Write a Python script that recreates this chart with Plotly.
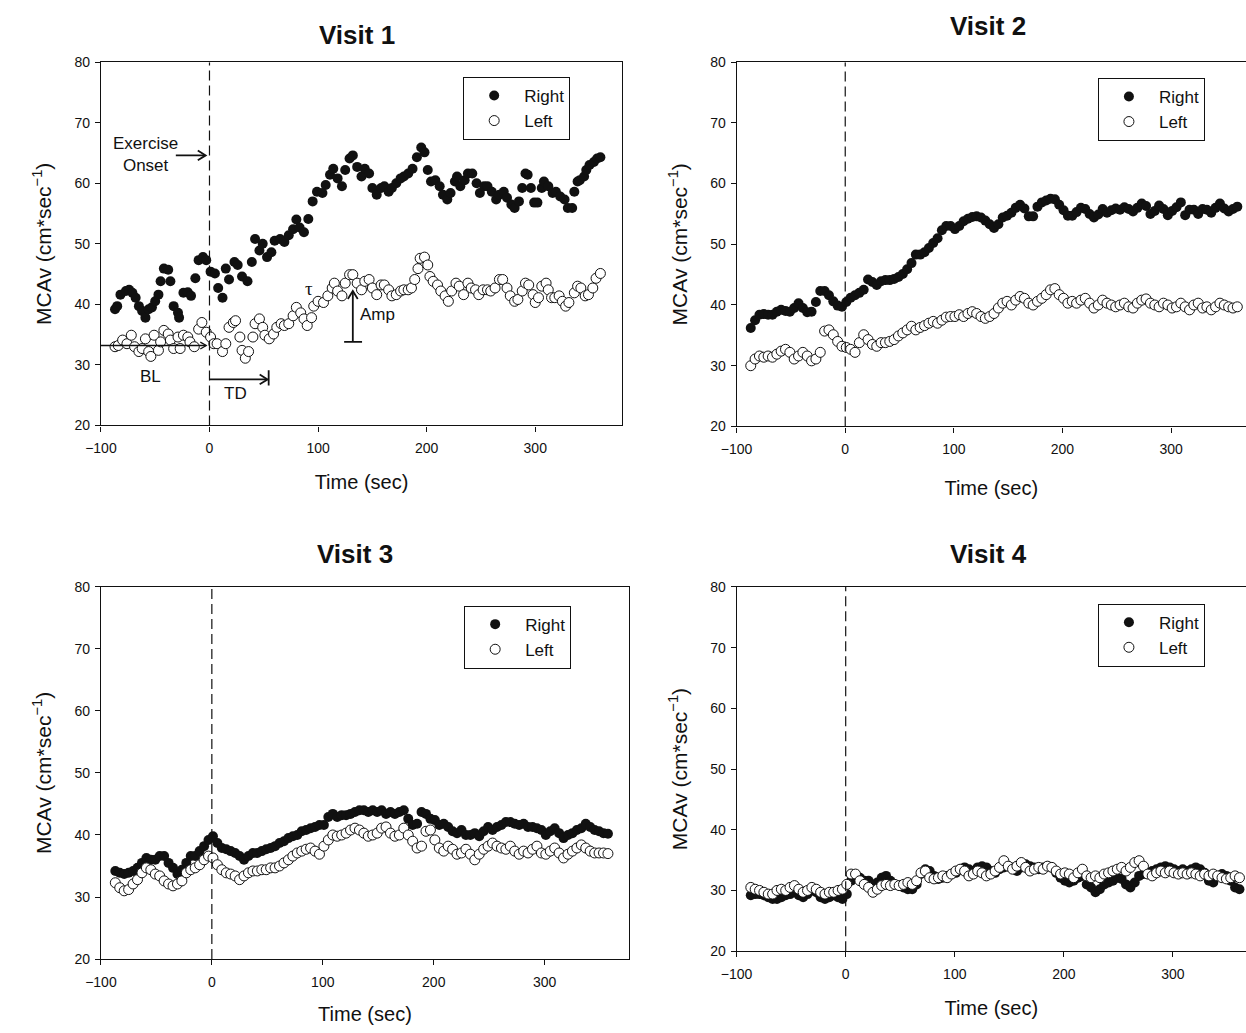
import plotly.graph_objects as go

# ---------------- data ----------------
TICKS_X = [-100, 0, 100, 200, 300]
TICKS_Y = [20, 30, 40, 50, 60, 70, 80]

# Visit 1 (irregular read-off times)
t1_right = [-87,-85,-82,-77,-74,-71,-68,-65,-62,-59,-56,-53,-50,-47,-45,-42,-38,-36,-33,-29,
            -28,-24,-20,-17,-13,-10,-6,-3,1,5,8,12,15,18,23,26,30,35,39,42,
            46,49,53,57,60,65,69,73,77,80,83,87,91,95,99,104,107,111,114,118,
            122,125,129,132,136,140,143,147,150,154,158,161,165,168,172,176,179,183,187,191,
            195,198,201,204,208,212,215,219,222,226,228,231,235,238,242,246,249,253,256,260,
            264,267,271,274,278,281,285,288,291,293,296,299,302,306,308,312,316,319,323,327,
            330,334,336,339,341,345,347,350,354,357,360]
v1_right = [39.2,39.7,41.6,42.2,42.4,41.9,41.1,39.7,38.9,37.8,39.2,39.5,40.5,41.6,43.8,45.9,45.7,43.8,39.7,38.6,
            37.8,41.9,42.0,41.4,44.3,47.3,47.8,47.3,45.4,45.1,42.7,41.1,45.9,44.1,47.0,46.5,44.6,43.8,47.0,50.8,
            48.9,50.0,47.8,48.6,50.5,50.8,50.3,51.4,52.4,54.0,52.7,51.9,54.1,57.0,58.6,58.4,59.7,61.4,62.4,60.8,
            59.5,62.2,64.1,64.6,62.7,61.1,62.4,61.6,59.2,58.1,59.2,59.5,58.6,59.2,60.0,60.8,61.1,61.6,62.4,64.3,
            65.9,65.1,62.2,60.3,60.5,59.5,58.1,57.3,58.4,60.3,61.1,59.5,60.5,61.6,61.6,60.0,58.4,59.5,59.5,58.6,
            57.3,58.1,58.6,57.6,56.5,55.9,57.0,59.2,61.6,61.4,59.2,56.8,56.8,59.2,60.3,59.5,58.4,58.6,57.8,57.3,
            55.9,55.9,58.6,60.3,60.5,61.1,62.2,63.0,63.5,64.1,64.3]
t1_left = [-87,-84,-80,-76,-72,-69,-65,-62,-59,-56,-54,-51,-47,-45,-42,-38,-36,-33,-29,-27,
           -24,-20,-18,-14,-10,-7,-3,1,4,7,12,15,18,22,24,28,30,33,36,40,
           42,46,49,51,55,59,62,66,69,73,77,80,84,87,90,94,96,100,105,109,
           113,115,118,122,125,129,132,136,140,143,147,150,154,158,161,165,168,172,176,179,
           183,186,189,192,194,198,201,203,206,210,213,217,220,223,227,230,234,238,241,245,
           248,252,256,259,263,267,270,274,277,281,284,288,291,294,298,300,303,306,310,312,
           315,318,322,325,328,331,336,339,342,346,349,353,356,360]
v1_left = [33.0,33.2,34.1,33.5,34.9,33.0,32.2,32.7,34.3,32.2,31.4,34.9,32.4,33.8,35.7,35.1,34.1,32.7,34.6,32.7,
           34.9,34.6,33.8,33.0,35.9,37.0,35.4,34.6,33.5,33.5,32.2,33.5,36.2,37.0,37.3,34.6,32.4,31.1,32.2,34.6,
           36.8,37.6,36.2,34.9,34.3,35.1,36.2,36.8,36.5,36.8,38.1,39.5,38.6,37.6,36.5,37.8,39.7,40.5,40.3,41.4,
           42.7,43.5,42.2,41.4,43.5,44.9,44.9,43.5,42.4,43.8,44.1,42.7,41.6,43.2,43.2,42.4,41.4,41.6,42.2,42.4,
           42.4,42.7,44.1,45.9,47.6,47.8,46.5,44.6,43.8,43.2,42.2,41.4,40.5,42.2,43.5,43.0,41.6,43.5,42.7,42.4,
           41.6,42.4,42.4,42.2,42.7,44.1,44.1,42.7,41.4,40.5,40.8,42.2,43.5,43.2,41.6,40.3,41.1,43.0,43.5,42.4,
           41.1,41.1,41.4,40.5,39.7,40.3,41.9,43.0,42.7,41.4,41.6,42.7,44.3,45.1]

# Visits 2-4: samples every 4 s starting at -87 s
T0, STEP = -87, 4
v2_right = [36.2,37.5,38.4,38.5,38.4,38.4,38.9,39.2,39.0,38.9,
            39.5,40.3,39.5,38.8,38.9,40.5,42.3,42.3,41.6,40.6,
            39.9,39.7,40.5,41.2,41.6,42.0,42.5,44.2,43.8,43.3,
            43.9,44.1,44.1,44.3,44.6,45.1,45.9,46.9,48.3,48.3,
            48.7,49.4,50.2,51.0,52.3,53.0,53.0,52.5,53.0,53.8,
            54.2,54.5,54.6,54.4,53.9,53.3,52.7,53.3,54.4,54.7,
            55.2,56.0,56.5,55.9,54.6,54.6,56.2,56.9,57.2,57.5,
            57.4,56.5,55.6,54.7,54.7,55.3,56.0,55.8,55.0,54.4,
            54.9,55.8,55.2,55.6,55.9,55.7,56.1,55.8,55.4,56.0,
            56.7,56.3,55.0,55.5,56.4,55.8,54.8,55.5,56.1,56.9,
            54.8,55.7,55.7,55.0,55.8,55.7,55.2,56.0,56.7,55.9,
            55.4,55.8,56.2]
v2_left = [30.0,31.1,31.6,31.4,31.6,31.4,31.9,32.4,32.7,32.2,
           31.1,31.6,32.2,31.6,30.8,31.1,32.2,35.7,35.9,35.1,
           34.0,33.2,33.0,32.7,32.2,33.8,35.1,34.3,33.5,33.2,
           33.8,33.8,34.0,34.3,34.9,35.4,35.9,36.5,35.9,36.3,
           36.6,37.0,37.3,37.0,37.5,38.0,
           38.1,38.1,38.4,38.1,38.6,38.9,38.6,38.1,37.8,38.1,
           38.6,39.5,40.3,40.6,40.0,40.8,41.4,41.1,40.3,40.0,
           40.6,41.1,41.7,42.5,42.7,41.7,41.1,40.3,40.6,40.3,
           40.8,41.1,40.3,39.5,40.0,40.8,40.3,40.0,39.7,40.0,
           40.3,39.7,39.5,40.3,40.8,41.0,40.3,40.0,39.7,40.3,
           40.0,39.5,39.7,40.3,39.7,39.2,40.0,40.3,39.5,39.7,
           39.2,39.7,40.3,40.0,39.7,39.5,39.7]
v3_right = [34.2,33.9,33.7,33.9,34.2,34.7,35.5,36.3,36.0,36.0,
            36.6,36.6,35.5,34.7,33.7,34.4,35.5,36.6,36.6,37.4,
            38.2,39.2,39.8,38.7,37.9,37.7,37.4,37.1,36.6,36.0,
            36.6,37.1,37.1,37.4,37.7,37.9,38.2,38.7,39.0,39.5,
            39.8,40.0,40.6,40.8,41.1,41.3,41.6,41.6,42.9,43.4,
            42.9,43.2,43.2,43.4,43.7,44.0,44.0,43.7,44.0,43.7,
            44.0,43.4,43.7,43.4,43.7,44.0,42.6,41.6,41.8,43.7,
            43.4,42.6,42.4,41.6,41.8,41.3,40.6,40.3,40.8,40.0,
            40.0,40.3,39.8,40.6,41.3,40.8,41.3,41.6,42.1,42.1,
            41.8,41.6,41.8,41.3,41.3,41.1,40.8,40.0,40.6,41.1,
            40.3,39.5,40.0,40.3,40.8,41.1,41.8,41.3,40.8,40.6,
            40.3,40.2]
v3_left = [32.3,31.5,31.0,31.2,32.1,32.8,33.9,34.7,34.4,33.7,
           33.4,32.6,32.1,31.8,32.1,32.6,33.9,34.4,34.7,35.2,
           36.0,36.6,36.3,35.2,34.4,33.9,33.7,33.4,32.8,33.4,
           33.9,34.2,34.2,34.4,34.4,34.7,34.7,35.0,35.5,36.0,
           36.6,37.1,37.4,37.7,37.9,37.4,36.9,38.2,39.2,40.0,
           39.8,40.0,40.3,40.8,41.1,40.8,40.3,39.8,40.0,40.3,
           41.1,41.3,40.3,39.8,40.0,41.1,40.0,39.0,37.9,38.2,
           40.6,40.8,39.2,37.9,37.4,38.2,37.7,36.9,37.1,37.7,
           36.9,36.0,36.9,37.7,38.2,38.7,38.2,37.9,37.7,38.2,
           37.4,36.9,37.4,37.1,37.7,38.2,37.1,36.9,37.4,37.9,
           37.1,36.3,36.9,37.4,37.9,38.4,37.9,37.4,37.1,37.1,
           37.1,37.0]
v4_right = [29.2,29.4,29.4,29.2,28.9,28.6,28.6,28.9,29.2,29.4,
            29.7,29.2,28.9,29.4,30.0,29.7,28.9,28.6,28.9,29.2,
            28.9,28.6,29.4,31.6,32.4,32.1,31.6,31.6,31.0,31.3,
            32.1,32.4,31.6,31.0,30.8,30.5,30.2,30.2,31.0,32.7,
            33.5,33.2,32.4,31.9,32.1,32.4,32.7,32.9,33.5,33.8,
            33.5,33.2,33.8,34.0,33.8,33.2,32.9,33.5,33.8,34.0,
            33.8,33.2,33.8,34.3,34.0,33.8,33.5,33.8,34.0,33.8,
            32.9,32.1,31.6,31.3,31.6,32.1,32.4,31.0,30.5,29.7,
            30.2,31.0,31.3,31.6,32.1,31.9,31.0,30.5,31.3,32.4,
            32.7,32.9,33.2,33.5,33.8,34.0,33.8,33.5,33.2,33.5,
            33.2,33.5,33.8,33.5,32.9,31.6,31.3,32.4,32.7,32.4,
            31.6,30.5,30.2]
v4_left = [30.5,30.2,30.0,29.7,29.4,29.4,30.0,30.2,30.0,30.5,
           30.8,30.2,29.7,30.0,30.5,30.2,29.7,29.4,29.7,29.7,
           30.0,30.2,31.0,32.7,32.7,31.6,31.0,30.5,29.7,30.2,
           30.8,31.0,30.8,31.0,30.8,31.0,31.3,31.0,31.6,32.9,
           33.2,32.1,31.9,32.1,32.4,32.1,32.7,33.2,33.5,33.2,
           32.4,32.7,33.2,32.9,32.4,32.7,33.2,33.8,34.9,34.0,
           33.5,34.0,34.6,33.8,33.2,33.5,33.8,33.5,34.0,33.8,
           33.2,32.7,32.9,32.7,32.1,32.9,33.5,32.4,32.1,32.4,
           32.1,32.7,32.9,33.2,33.5,33.8,33.2,33.8,34.6,34.9,
           34.0,32.7,32.4,32.9,33.2,32.9,33.2,32.9,32.7,32.9,
           32.7,32.9,32.7,32.4,32.7,32.4,32.7,32.4,32.1,31.9,
           32.1,32.4,32.1]


def grid(vals):
    return [T0 + STEP * i for i in range(len(vals))]


# ---------------- layout helpers ----------------
W, H = 1246, 1033
FONT = "Liberation Sans, Arial, sans-serif"
INK = "#111111"


def fx(p):
    return p / W


def fy(p):
    return 1 - p / H


panels = [
    dict(title="Visit 1", box=(86, 614, 55, 424), xmax=380, rline=True,
         leg=(453, 70), tpos=(345, 27), xstand=19, ystand=17,
         tR=t1_right, vR=v1_right, tL=t1_left, vL=v1_left),
    dict(title="Visit 2", box=(730, 1246, 55, 425), xmax=369, rline=False,
         leg=(1096, 71), tpos=(985, 18), xstand=24, ystand=16,
         tR=grid(v2_right), vR=v2_right, tL=grid(v2_left), vL=v2_left),
    dict(title="Visit 3", box=(86, 621, 588, 966), xmax=376, rline=True,
         leg=(454, 607), tpos=(343, 555), xstand=18, ystand=17,
         tR=grid(v3_right), vR=v3_right, tL=grid(v3_left), vL=v3_left),
    dict(title="Visit 4", box=(730, 1246, 588, 958), xmax=367, rline=False,
         leg=(1096, 605), tpos=(985, 555), xstand=19, ystand=16,
         tR=grid(v4_right), vR=v4_right, tL=grid(v4_left), vL=v4_left),
]

fig = go.Figure()
layout = dict(width=W, height=H, margin=dict(l=0, r=0, t=0, b=0),
              paper_bgcolor="white", plot_bgcolor="white",
              font=dict(family=FONT, color=INK), showlegend=True)
annotations = []
shapes = []

for i, p in enumerate(panels, start=1):
    sfx = "" if i == 1 else str(i)
    xname, yname = "x" + sfx, "y" + sfx
    legname = "legend" + sfx
    x0, x1, y0, y1 = p["box"]
    layout["xaxis" + sfx] = dict(
        domain=[fx(x0), fx(x1)], range=[-100, p["xmax"]], anchor=yname,
        tickvals=TICKS_X, ticks="outside", ticklen=5, tickwidth=1, tickcolor=INK,
        showline=True, linecolor=INK, linewidth=1.2, mirror=True,
        showgrid=False, zeroline=False, ticklabelstandoff=5,
        tickfont=dict(size=14, family=FONT, color=INK),
        title=dict(text="Time (sec)", standoff=p["xstand"],
                   font=dict(size=20, family=FONT, color=INK)))
    layout["yaxis" + sfx] = dict(
        domain=[fy(y1), fy(y0)], range=[20, 80], anchor=xname,
        tickvals=TICKS_Y, ticks="outside", ticklen=5, tickwidth=1, tickcolor=INK,
        showline=True, linecolor=INK, linewidth=1.2, mirror=p["rline"],
        showgrid=False, zeroline=False, ticklabelstandoff=2,
        tickfont=dict(size=14, family=FONT, color=INK),
        title=dict(text="MCAv (cm*sec<sup>\u22121</sup>)", standoff=p["ystand"],
                   font=dict(size=21, family=FONT, color=INK)))
    layout[legname] = dict(
        x=fx(p["leg"][0]), y=fy(p["leg"][1]), xanchor="left", yanchor="top",
        bgcolor="white", bordercolor=INK, borderwidth=1,
        font=dict(size=17, family=FONT, color=INK), itemwidth=50,
        tracegroupgap=0, traceorder="normal")

    fig.add_trace(go.Scatter(
        x=p["tR"], y=p["vR"], mode="markers", name="Right",
        xaxis=xname, yaxis=yname, legend=legname,
        marker=dict(size=10, color=INK, line=dict(width=0))))
    fig.add_trace(go.Scatter(
        x=p["tL"], y=p["vL"], mode="markers", name="Left",
        xaxis=xname, yaxis=yname, legend=legname,
        marker=dict(size=10, color="white", line=dict(width=1, color=INK))))

    shapes.append(dict(type="line", xref=xname, yref=yname, x0=0, x1=0, y0=20, y1=80,
                       line=dict(color=INK, width=1.2, dash="10px,5px")))

    annotations.append(dict(text="<b>%s</b>" % p["title"], xref="paper", yref="paper",
                            x=fx(p["tpos"][0]), y=fy(p["tpos"][1]), showarrow=False,
                            xanchor="center", yanchor="middle",
                            font=dict(size=26, family=FONT, color=INK)))

# ---------------- Visit 1 schematic labels ----------------
SX, SY = 1.1, 6.15  # px per data unit in Visit 1


def head_right(xt, yt, L=8, w=5):
    return "M %.2f,%.3f L %.2f,%.3f L %.2f,%.3f" % (xt - L / SX, yt + w / SY, xt, yt, xt - L / SX, yt - w / SY)


def head_up(xt, yt, L=8, w=5):
    return "M %.2f,%.3f L %.2f,%.3f L %.2f,%.3f" % (xt - w / SX, yt - L / SY, xt, yt, xt + w / SX, yt - L / SY)


ln = dict(color=INK, width=1.8)
thin = dict(color=INK, width=1.3)
shapes += [
    dict(type="line", xref="x", yref="y", x0=-31, x1=-4, y0=64.6, y1=64.6, line=ln),
    dict(type="path", xref="x", yref="y", path=head_right(-3.5, 64.6), line=ln),
    dict(type="line", xref="x", yref="y", x0=-100, x1=-3, y0=33.2, y1=33.2, line=thin),
    dict(type="path", xref="x", yref="y", path=head_right(-3, 33.2, 6, 3.5), line=thin),
    dict(type="line", xref="x", yref="y", x0=0, x1=53, y0=27.6, y1=27.6, line=ln),
    dict(type="path", xref="x", yref="y", path=head_right(53.5, 27.6), line=ln),
    dict(type="line", xref="x", yref="y", x0=54.5, x1=54.5, y0=26.6, y1=29.1, line=ln),
    dict(type="line", xref="x", yref="y", x0=132, x1=132, y0=33.8, y1=42.0, line=ln),
    dict(type="path", xref="x", yref="y", path=head_up(132, 42.2), line=ln),
    dict(type="line", xref="x", yref="y", x0=124, x1=140.5, y0=33.8, y1=33.8, line=ln),
]
ann_font = dict(size=17, family=FONT, color=INK)
annotations += [
    dict(x=-59, y=64.7, xref="x", yref="y", text="Exercise<br>Onset", showarrow=False, font=ann_font),
    dict(x=-54, y=28.0, xref="x", yref="y", text="BL", showarrow=False, font=ann_font),
    dict(x=24, y=25.3, xref="x", yref="y", text="TD", showarrow=False, font=ann_font),
    dict(x=92, y=42.6, xref="x", yref="y", text="\u03c4", showarrow=False,
         font=dict(size=19, family="Liberation Serif, serif", color=INK)),
    dict(x=137, y=38.3, xref="x", yref="y", text="Amp", showarrow=False, xanchor="left", font=ann_font),
]

layout["annotations"] = annotations
layout["shapes"] = shapes
fig.update_layout(**layout)
fig.write_html("out.html", config={"displayModeBar": False},
               post_script="document.body.style.margin='0px';")
